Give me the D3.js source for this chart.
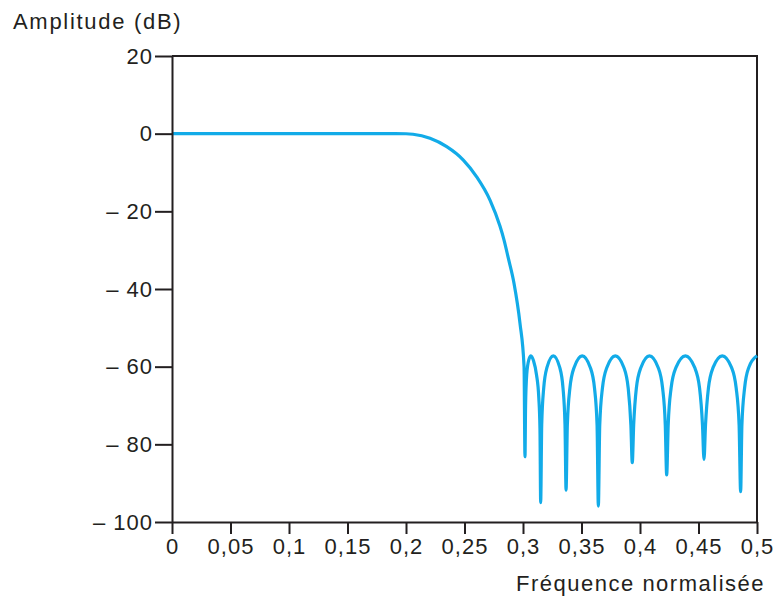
<!DOCTYPE html>
<html>
<head>
<meta charset="utf-8">
<script src="https://cdn.jsdelivr.net/npm/d3@7"></script>
<style>
  html, body { margin: 0; padding: 0; background: #fff; }
  svg text { font-family: "Liberation Sans", Arial, Helvetica, sans-serif; fill: #231f20; }
</style>
</head>
<body>
<svg id="chart" width="776" height="599"></svg>
<script>
// ---- Data ----
const frequency = [
  0, 0.05, 0.1, 0.15, 0.19, 0.2, 0.206, 0.2205, 0.2348, 0.249, 0.2604, 0.2718, 0.2803, 0.2838, 0.2874, 0.2923, 0.2974, 0.3009,
  0.3017, 0.3022, 0.3032, 0.3050, 0.3068, 0.3090, 0.3115, 0.3135, 0.3145,
  0.3151, 0.3160, 0.3177, 0.3205, 0.3259, 0.3314, 0.3342, 0.3359,
  0.3368, 0.3379, 0.3401, 0.3437, 0.3506, 0.3575, 0.3611, 0.3633,
  0.3644, 0.3656, 0.3679, 0.3717, 0.3789, 0.3862, 0.3899, 0.3922,
  0.3934, 0.3946, 0.3969, 0.4008, 0.4081, 0.4155, 0.4193, 0.4216,
  0.4228, 0.4241, 0.4266, 0.4308, 0.4388, 0.4467, 0.4509, 0.4534,
  0.4547, 0.4560, 0.4585, 0.4625, 0.4703, 0.4782, 0.4822, 0.4847,
  0.4860, 0.4871, 0.4894, 0.4930, 0.5000
];
const amplitudeDb = [
  0, 0, 0, 0, 0, -0.02, -0.15, -1.2, -3.35, -6.8, -11.1, -17.1, -23.8, -27.4, -32.0, -38.5, -48.8, -60.0,
  -83.2, -70, -62, -58.2, -57.2, -58.5, -62, -68, -76,
  -95.0, -75, -65.5, -60.2, -57.2, -60.2, -65.5, -75,
  -91.8, -75, -65.5, -60.2, -57.2, -60.2, -65.5, -75,
  -95.9, -75, -65.5, -60.2, -57.2, -60.2, -65.5, -75,
  -84.7, -75, -65.5, -60.2, -57.2, -60.2, -65.5, -75,
  -87.9, -75, -65.5, -60.2, -57.2, -60.2, -65.5, -75,
  -83.9, -75, -65.5, -60.2, -57.2, -60.2, -65.5, -75,
  -92.2, -75, -65.5, -60.2, -57.2
];
const xTicks = [0, 0.05, 0.1, 0.15, 0.2, 0.25, 0.3, 0.35, 0.4, 0.45, 0.5];
const xTickLabels = ["0", "0,05", "0,1", "0,15", "0,2", "0,25", "0,3", "0,35", "0,4", "0,45", "0,5"];
const yTicks = [20, 0, -20, -40, -60, -80, -100];
const yTickLabels = ["20", "0", "\u2013 20", "\u2013 40", "\u2013 60", "\u2013 80", "\u2013 100"];
const yTitle = "Amplitude (dB)";
const xTitle = "Fréquence normalisée";

// ---- Layout ----
const svg = d3.select("#chart");
const mLeft = 172, mRight = 757, mTop = 56, mBottom = 522;
const axisColor = "#231f20";
const lineColor = "#12abe8";

const x = d3.scaleLinear().domain([0, 0.5]).range([mLeft, mRight]);
const y = d3.scaleLinear().domain([-100, 20]).range([mBottom, mTop]);

// frame (top and right)
svg.append("path")
  .attr("d", `M${mLeft},${mTop}H${mRight}V${mBottom}`)
  .attr("fill", "none").attr("stroke", axisColor).attr("stroke-width", 2);

// curve
const pts = frequency.map((f, i) => [f, amplitudeDb[i]]);
const line = d3.line().x(d => x(d[0])).y(d => y(d[1])).curve(d3.curveMonotoneX);
svg.append("path")
  .datum(pts)
  .attr("d", line)
  .attr("fill", "none")
  .attr("stroke", lineColor)
  .attr("stroke-width", 3.2)
  .attr("stroke-linejoin", "round");

// axes
const xAxis = d3.axisBottom(x).tickValues(xTicks)
  .tickFormat((d, i) => xTickLabels[i]).tickSize(12).tickSizeOuter(0).tickPadding(4);
const yAxis = d3.axisLeft(y).tickValues(yTicks)
  .tickFormat((d, i) => yTickLabels[i]).tickSize(17).tickSizeOuter(0).tickPadding(2);

const gx = svg.append("g").attr("transform", `translate(0,${mBottom})`).call(xAxis);
const gy = svg.append("g").attr("transform", `translate(${mLeft},0)`).call(yAxis);

[gx, gy].forEach(g => {
  g.select(".domain").attr("stroke", axisColor).attr("stroke-width", 2);
  g.selectAll(".tick line").attr("stroke", axisColor).attr("stroke-width", 2);
  g.selectAll(".tick text")
    .attr("fill", axisColor)
    .style("font-family", '"Liberation Sans", Arial, sans-serif')
    .style("font-size", "22px")
    .style("letter-spacing", "1px");
});

// titles
svg.append("text")
  .attr("x", 13).attr("y", 29)
  .style("font-size", "22px").style("letter-spacing", "1.7px")
  .text(yTitle);
svg.append("text")
  .attr("x", 765).attr("y", 591)
  .attr("text-anchor", "end")
  .style("font-size", "22px").style("letter-spacing", "1.5px")
  .text(xTitle);
</script>
</body>
</html>
